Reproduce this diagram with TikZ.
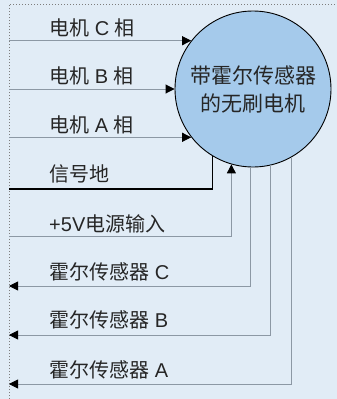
\documentclass[tikz,border=0pt]{standalone}
\usepackage{fontspec}
\setmainfont{Noto Sans CJK SC}
\newfontfamily\latf{Liberation Sans}
\usetikzlibrary{arrows.meta}
\definecolor{bgc}{RGB}{225,236,246}
\definecolor{motorfill}{RGB}{165,202,235}
\definecolor{wire}{RGB}{140,152,164}
\definecolor{borderc}{RGB}{125,125,125}
\newcommand{\lt}[1]{{\latf #1}}
\tikzset{
  wireline/.style={draw=wire, line width=0.9pt},
  gndline/.style={draw=black, line width=1.3pt},
  tipend/.style={-{Triangle[length=9pt,width=9pt,black]}},
  lbl/.style={anchor=west, inner sep=0pt, text=black!85, font=\fontsize{20}{23}\selectfont},
  motor/.style={circle, draw=black, line width=0.9pt, fill=motorfill, minimum size=156pt,
    inner sep=0pt, align=center, text=black!85, font=\fontsize{21}{28}\selectfont}
}
\begin{document}
\begin{tikzpicture}[x=1pt,y=-1pt]
\fill[bgc] (0,0) rectangle (337,399);
\useasboundingbox (0,0) rectangle (337,399);
\draw[borderc, dotted, line width=1pt] (9,399) -- (9,4) -- (337,4);

\node[motor] (m) at (253,89) {带霍尔传感器\\的无刷电机};

\coordinate (L) at (9,0);
\coordinate (gndL) at (9,189);
\coordinate (pwrL) at (9,236);
\coordinate (hcL) at (9,286);
\coordinate (hbL) at (9,335);
\coordinate (haL) at (9,384);

\draw[wireline, tipend] (m.142 -| L) -- (m.142);
\draw[wireline, tipend] (m.180 -| L) -- (m.180);
\draw[wireline, tipend] (m.218 -| L) -- (m.218);
\draw[gndline] (gndL) -| (m.239);
\draw[wireline, tipend] (pwrL) -| (m.254);
\draw[wireline, tipend] (m.268.5) |- (hcL);
\draw[wireline, tipend] (m.283.3) |- (hbL);
\draw[wireline, tipend] (m.299.2) |- (haL);

\node[lbl] (lc) at (49,27.5) {电机\lt{ C }相};
\node[lbl] (lb) at (49,76) {电机\lt{ B }相};
\node[lbl] (la) at (49,124.5) {电机\lt{ A }相};
\node[lbl] (lg) at (49,173.5) {信号地};
\node[lbl] (lp) at (49,224) {\lt{+5V}电源输入};
\node[lbl] (lhc) at (49,271.5) {霍尔传感器\lt{ C}};
\node[lbl] (lhb) at (49,320) {霍尔传感器\lt{ B}};
\node[lbl] (lha) at (49,370) {霍尔传感器\lt{ A}};
\end{tikzpicture}
\end{document}
